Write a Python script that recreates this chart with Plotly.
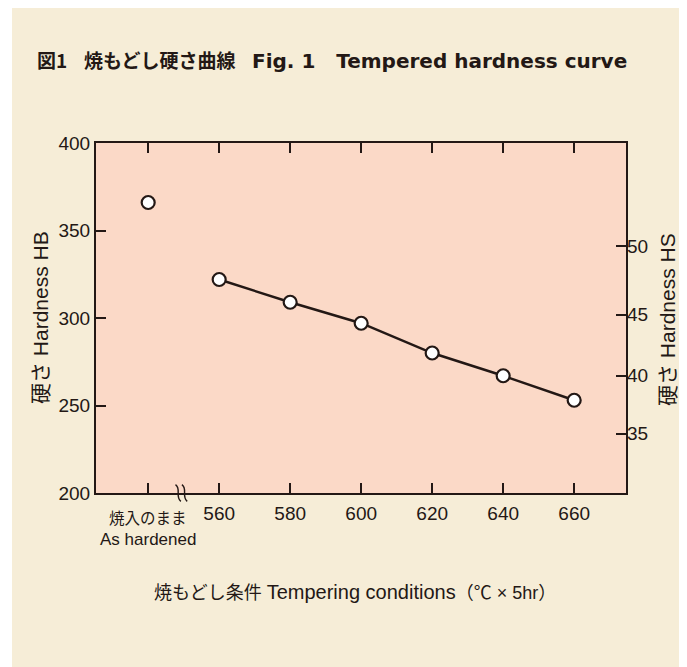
import plotly.graph_objects as go

# ---- data ----
as_hardened_pos = [540]
as_hardened_hb = [366]
temps = [560, 580, 600, 620, 640, 660]
hb_tempered = [322, 309, 297, 280, 267, 253]

x_tickvals = [540, 560, 580, 600, 620, 640, 660]
x_ticktext = ["", "560", "580", "600", "620", "640", "660"]
hb_ticks = [200, 250, 300, 350, 400]
hs_labels = ["35", "40", "45", "50"]
hs_at_hb = [234, 267, 302, 341]

INK = "#231815"
BEIGE = "#F6EDD7"
PLOTBG = "#FBD9C7"
LAT = "Liberation Sans, Arial, Noto Sans CJK JP, sans-serif"
JP = "Noto Sans CJK JP, sans-serif"

W, H = 671, 659          # page body has an 8px margin
ML, MR, MT, MB = 88, 53, 135, 174
PW, PH = W - ML - MR, H - MT - MB
OFF = 8


def px(X):   # screen x -> paper x
    return (X - OFF - ML) / PW


def py(Y):   # screen y -> paper y
    return (H - MB - (Y - OFF)) / PH


fig = go.Figure()
marker = dict(size=13, color="white", line=dict(color=INK, width=2.2))
fig.add_trace(go.Scatter(x=as_hardened_pos, y=as_hardened_hb, mode="markers",
                         marker=marker, showlegend=False, cliponaxis=False))
fig.add_trace(go.Scatter(x=temps, y=hb_tempered, mode="lines+markers",
                         line=dict(color=INK, width=2.4), marker=marker,
                         showlegend=False, cliponaxis=False))
# invisible trace to activate right axis
fig.add_trace(go.Scatter(x=[temps[0]], y=[hb_tempered[0]], yaxis="y2", mode="markers",
                         marker=dict(opacity=0), showlegend=False, hoverinfo="skip"))

tickfont = dict(family=LAT, size=19, color=INK)
fig.update_layout(
    width=W, height=H,
    paper_bgcolor=BEIGE, plot_bgcolor=PLOTBG,
    margin=dict(l=ML, r=MR, t=MT, b=MB),
    xaxis=dict(range=[525.3, 674.6], tickvals=x_tickvals, ticktext=x_ticktext,
               ticks="inside", ticklen=10, tickwidth=1.5, tickcolor=INK,
               showline=True, linecolor=INK, linewidth=2.2, mirror="ticks",
               showgrid=False, zeroline=False, tickfont=tickfont,
               ticklabelstandoff=2),
    yaxis=dict(range=[200, 400], tickvals=hb_ticks,
               ticks="inside", ticklen=10, tickwidth=1.5, tickcolor=INK,
               showline=True, linecolor=INK, linewidth=2.2, mirror=True,
               showgrid=False, zeroline=False, tickfont=tickfont),
    yaxis2=dict(range=[200, 400], overlaying="y", side="right",
                tickvals=hs_at_hb, ticktext=hs_labels,
                ticks="inside", ticklen=10, tickwidth=1.5, tickcolor=INK,
                showline=False, showgrid=False, zeroline=False, tickfont=tickfont),
    shapes=[
        # white strip at the left of the beige panel
        dict(type="rect", xref="paper", yref="paper", x0=px(OFF), x1=px(12),
             y0=0 - MB / PH, y1=1 + MT / PH, fillcolor="white",
             line=dict(width=0), layer="below"),
        dict(type="path", xref="x", yref="paper",
             path="M 547.7,0.024 C 549.4,0.012 547.5,-0.010 549.2,-0.024",
             line=dict(color=INK, width=1.4)),
        dict(type="path", xref="x", yref="paper",
             path="M 549.5,0.024 C 551.2,0.012 549.3,-0.010 551.0,-0.024",
             line=dict(color=INK, width=1.4)),
    ],
    annotations=[
        dict(xref="paper", yref="paper", x=px(35), y=py(59),
             xanchor="left", yanchor="middle", showarrow=False,
             text="<b>図1</b>", font=dict(family=JP, size=19, color=INK)),
        dict(xref="paper", yref="paper", x=px(82), y=py(59),
             xanchor="left", yanchor="middle", showarrow=False,
             text="<b>焼もどし硬さ曲線</b>", font=dict(family=JP, size=19, color=INK)),
        dict(xref="paper", yref="paper", x=px(250), y=py(61),
             xanchor="left", yanchor="middle", showarrow=False,
             text="<b>Fig. 1   Tempered hardness curve</b>",
             font=dict(family="DejaVu Sans", size=20, color=INK)),
        dict(xref="x", yref="paper", x=540, y=py(517),
             xanchor="center", yanchor="middle", showarrow=False,
             text="焼入のまま", font=dict(family=JP, size=15.5, color=INK)),
        dict(xref="x", yref="paper", x=540, y=py(539),
             xanchor="center", yanchor="middle", showarrow=False,
             text="As hardened", font=dict(family=LAT, size=17, color=INK)),
        dict(xref="paper", yref="paper", x=px(355), y=py(592),
             xanchor="center", yanchor="middle", showarrow=False,
             text="焼もどし条件 <span style='font-size:20px'>Tempering conditions</span>（℃ × 5hr）",
             font=dict(family=LAT, size=18, color=INK)),
        dict(xref="paper", yref="paper", x=px(40), y=py(318),
             xanchor="center", yanchor="middle", showarrow=False, textangle=-90,
             text="硬さ Hardness HB", font=dict(family=LAT, size=21, color=INK)),
        dict(xref="paper", yref="paper", x=px(667), y=py(320),
             xanchor="center", yanchor="middle", showarrow=False, textangle=-90,
             text="硬さ Hardness HS", font=dict(family=LAT, size=21, color=INK)),
    ],
)

fig.write_html("out.html")
